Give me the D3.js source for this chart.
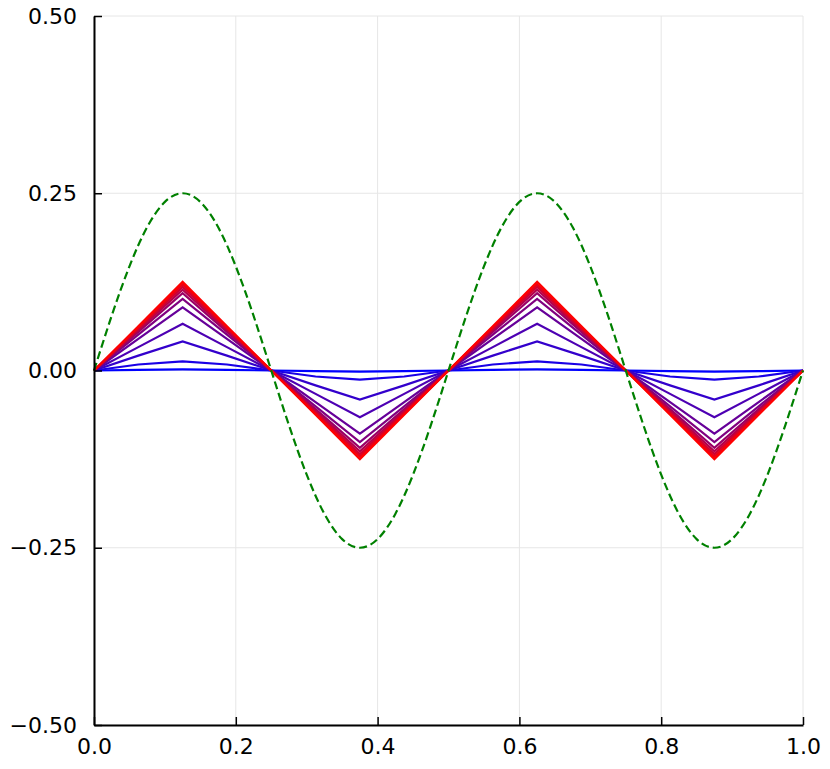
<!DOCTYPE html>
<html>
<head>
<meta charset="utf-8">
<script src="https://cdn.jsdelivr.net/npm/d3@7"></script>
<style>
  body { margin: 0; background: #fff; }
  text { font-family: "DejaVu Sans", sans-serif; }
</style>
</head>
<body>
<script>
// chart values
const xTicks = [0, 0.2, 0.4, 0.6, 0.8, 1.0];
const yTicks = [-0.5, -0.25, 0, 0.25, 0.5];

// green dashed reference curve, sampled every 0.025
const sineX = d3.range(41).map(i => i / 40);
const sineY = [
  0, 0.0773, 0.1469, 0.2023, 0.2378, 0.25, 0.2378, 0.2023, 0.1469, 0.0773,
  0, -0.0773, -0.1469, -0.2023, -0.2378, -0.25, -0.2378, -0.2023, -0.1469, -0.0773,
  0, 0.0773, 0.1469, 0.2023, 0.2378, 0.25, 0.2378, 0.2023, 0.1469, 0.0773,
  0, -0.0773, -0.1469, -0.2023, -0.2378, -0.25, -0.2378, -0.2023, -0.1469, -0.0773,
  0
];

// blue -> red family, sampled every 0.0625
const stepX = d3.range(17).map(i => i / 16);
const series = [
  [0, 0.001, 0.0015, 0.001, 0, -0.001, -0.0015, -0.001, 0, 0.001, 0.0015, 0.001, 0, -0.001, -0.0015, -0.001, 0],
  [0, 0.0085, 0.013, 0.0085, 0, -0.0085, -0.013, -0.0085, 0, 0.0085, 0.013, 0.0085, 0, -0.0085, -0.013, -0.0085, 0],
  [0, 0.021, 0.041, 0.021, 0, -0.021, -0.041, -0.021, 0, 0.021, 0.041, 0.021, 0, -0.021, -0.041, -0.021, 0],
  [0, 0.033, 0.066, 0.033, 0, -0.033, -0.066, -0.033, 0, 0.033, 0.066, 0.033, 0, -0.033, -0.066, -0.033, 0],
  [0, 0.0445, 0.089, 0.0445, 0, -0.0445, -0.089, -0.0445, 0, 0.0445, 0.089, 0.0445, 0, -0.0445, -0.089, -0.0445, 0],
  [0, 0.0505, 0.101, 0.0505, 0, -0.0505, -0.101, -0.0505, 0, 0.0505, 0.101, 0.0505, 0, -0.0505, -0.101, -0.0505, 0],
  [0, 0.0545, 0.109, 0.0545, 0, -0.0545, -0.109, -0.0545, 0, 0.0545, 0.109, 0.0545, 0, -0.0545, -0.109, -0.0545, 0],
  [0, 0.057, 0.114, 0.057, 0, -0.057, -0.114, -0.057, 0, 0.057, 0.114, 0.057, 0, -0.057, -0.114, -0.057, 0],
  [0, 0.059, 0.118, 0.059, 0, -0.059, -0.118, -0.059, 0, 0.059, 0.118, 0.059, 0, -0.059, -0.118, -0.059, 0],
  [0, 0.0608, 0.1215, 0.0608, 0, -0.0608, -0.1215, -0.0608, 0, 0.0608, 0.1215, 0.0608, 0, -0.0608, -0.1215, -0.0608, 0],
  [0, 0.0625, 0.125, 0.0625, 0, -0.0625, -0.125, -0.0625, 0, 0.0625, 0.125, 0.0625, 0, -0.0625, -0.125, -0.0625, 0]
];

// setup
const w = 830;
const h = 769;
const padL = 94, padR = 803, padT = 16, padB = 725;

const svg = d3.select("body")
  .append("svg")
  .attr("width", w)
  .attr("height", h);

const xScale = d3.scaleLinear().domain([0, 1]).range([padL, padR]);
const yScale = d3.scaleLinear().domain([-0.5, 0.5]).range([padB, padT]);

// grid
svg.append("g")
  .selectAll("line")
  .data(xTicks)
  .join("line")
  .attr("x1", d => xScale(d)).attr("x2", d => xScale(d))
  .attr("y1", padT).attr("y2", padB)
  .attr("stroke", "#e6e6e6").attr("stroke-width", 1);

svg.append("g")
  .selectAll("line")
  .data(yTicks)
  .join("line")
  .attr("x1", padL).attr("x2", padR)
  .attr("y1", d => yScale(d)).attr("y2", d => yScale(d))
  .attr("stroke", "#e6e6e6").attr("stroke-width", 1);

// curves
const line = d3.line()
  .x(d => xScale(d[0]))
  .y(d => yScale(d[1]));

const color = d3.interpolateRgb("rgb(0,0,255)", "rgb(255,0,0)");

svg.append("g")
  .selectAll("path")
  .data(series)
  .join("path")
  .attr("d", s => line.curve(d3.curveLinear)(s.map((v, i) => [stepX[i], v])))
  .attr("fill", "none")
  .attr("stroke", (s, i) => color(i / (series.length - 1)))
  .attr("stroke-width", 2.2)
  .attr("stroke-linejoin", "miter");

svg.append("path")
  .attr("d", line.curve(d3.curveNatural)(sineY.map((v, i) => [sineX[i], v])))
  .attr("fill", "none")
  .attr("stroke", "#008000")
  .attr("stroke-width", 2.2)
  .attr("stroke-dasharray", "8,4");

// axes, ticks inward
const xAxis = d3.axisBottom(xScale)
  .tickValues(xTicks)
  .tickSizeInner(-8)
  .tickSizeOuter(0)
  .tickPadding(13)
  .tickFormat(d3.format(".1f"));

const yAxis = d3.axisLeft(yScale)
  .tickValues(yTicks)
  .tickSizeInner(-8)
  .tickSizeOuter(0)
  .tickPadding(17)
  .tickFormat(d => d3.format(".2f")(d).replace("-", "\u2212"));

const gx = svg.append("g")
  .attr("transform", "translate(0," + padB + ")")
  .call(xAxis);

const gy = svg.append("g")
  .attr("transform", "translate(" + padL + ",0)")
  .call(yAxis);

[gx, gy].forEach(g => {
  g.attr("font-size", null).attr("font-family", null);
  g.select(".domain").attr("stroke", "#000").attr("stroke-width", 2);
  g.selectAll(".tick line").attr("stroke", "#000").attr("stroke-width", 1.5);
  g.selectAll(".tick text")
    .attr("fill", "#000")
    .attr("font-size", 22)
    .style("font-family", "DejaVu Sans, sans-serif")
    .style("font-size", "22px");
});
gx.select(".domain").attr("fill", "none");
</script>
</body>
</html>
